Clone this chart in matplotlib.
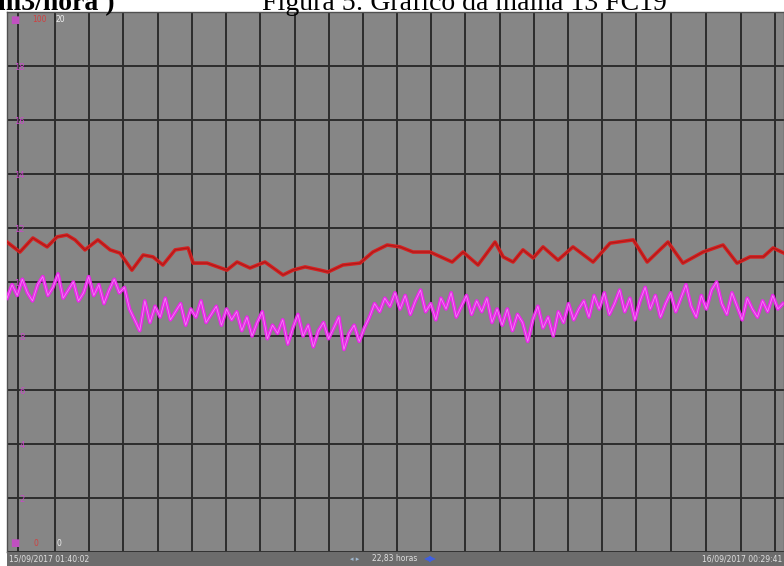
import numpy as np
import matplotlib
matplotlib.use("Agg")
import matplotlib.pyplot as plt
from matplotlib.patches import Rectangle

# ---------------- data ----------------
title_text = "Figura 5: Gráfico da malha 13 FC19"
unit_text = "m3/hora )"
start_label = "15/09/2017 01:40:02"
end_label = "16/09/2017 00:29:41"
span_label = "22,83 horas"

span_hours = 22.83
hour_grid = [0.32, 1.41, 2.41, 3.41, 4.44, 5.44, 6.43, 7.43, 8.46, 9.46, 10.46,
             11.46, 12.46, 13.46, 14.49, 15.49, 16.49, 17.48, 18.48, 19.51,
             20.54, 21.57, 22.57]
value_grid = [0, 2, 4, 6, 8, 10, 12, 14, 16, 18, 20]

red_time = [0.00, 0.38, 0.76, 1.18, 1.47, 1.76, 2.00, 2.29, 2.67, 3.03, 3.32,
            3.67, 4.00, 4.29, 4.58, 4.94, 5.32, 5.47, 5.88, 6.46, 6.76, 7.14,
            7.58, 8.11, 8.40, 8.76, 9.20, 9.43, 9.87, 10.37, 10.75, 11.17,
            11.55, 11.93, 12.43, 13.08, 13.40, 13.84, 14.34, 14.58, 14.87,
            15.16, 15.46, 15.75, 16.19, 16.63, 17.22, 17.72, 18.40, 18.81,
            19.42, 19.86, 20.45, 21.04, 21.45, 21.83, 22.22, 22.51, 22.83]
red_value = [11.48, 11.11, 11.63, 11.30, 11.67, 11.74, 11.56, 11.19, 11.56,
             11.19, 11.07, 10.44, 11.00, 10.93, 10.63, 11.19, 11.26, 10.70,
             10.70, 10.44, 10.74, 10.52, 10.74, 10.26, 10.44, 10.56, 10.44,
             10.37, 10.63, 10.70, 11.11, 11.37, 11.30, 11.11, 11.11, 10.74,
             11.11, 10.63, 11.48, 10.93, 10.74, 11.19, 10.89, 11.30, 10.81,
             11.30, 10.74, 11.44, 11.56, 10.74, 11.48, 10.70, 11.11, 11.37,
             10.70, 10.93, 10.93, 11.26, 11.07]

magenta_value = [
    9.4, 9.9, 9.5, 10.1, 9.6, 9.3, 9.9, 10.2, 9.5, 9.8, 10.3, 9.4, 9.7, 10.0,
    9.3, 9.6, 10.2, 9.5, 9.9, 9.2, 9.7, 10.1, 9.6, 9.8,
    9.0, 8.6, 8.2,
    9.3, 8.5, 9.1, 8.7, 9.4, 8.6, 8.9, 9.2, 8.4, 9.0, 8.7, 9.3, 8.5, 8.8,
    9.1, 8.4, 9.0, 8.6, 8.9,
    8.2, 8.7, 8.0, 8.5, 8.9, 7.9, 8.4, 8.1, 8.6, 7.7, 8.3, 8.8, 8.0, 8.4,
    7.6, 8.2, 8.5, 7.9, 8.3, 8.7, 7.5, 8.1, 8.4, 7.8, 8.3,
    8.7, 9.2, 8.9, 9.4, 9.1, 9.6,
    9.0, 9.5, 8.8, 9.3, 9.7, 8.9, 9.2, 8.6, 9.4, 9.0, 9.6, 8.7, 9.1, 9.5,
    8.8, 9.3, 8.9, 9.4, 8.5, 9.0,
    8.4, 9.0, 8.2, 8.8, 8.5, 7.8, 8.6, 9.1, 8.3, 8.7, 8.0, 8.9, 8.5, 9.2,
    8.6, 9.0,
    9.3, 8.7, 9.5, 9.0, 9.6, 8.8, 9.2, 9.7, 8.9, 9.4, 8.6, 9.3, 9.8, 9.0,
    9.5, 8.7, 9.2, 9.6, 8.9, 9.4, 9.9, 9.1, 8.7, 9.5, 9.0, 9.7, 10.0, 9.2,
    8.8, 9.6, 9.1, 8.6, 9.4, 9.0, 8.7, 9.3, 8.9, 9.5, 9.0, 9.2]
magenta_time = np.linspace(0.0, 22.8, len(magenta_value))

# ---------------- figure ----------------
W, H = 784, 566
fig = plt.figure(figsize=(W / 100, H / 100), dpi=100)
fig.patch.set_facecolor("white")

ax = fig.add_axes([7 / W, 14 / H, 777 / W, 540 / H])
ax.set_facecolor("#868686")
ax.set_xlim(0, span_hours)
ax.set_ylim(0, 20)

for v in value_grid:
    ax.axhline(v, color="#2c2c2c", lw=1.4, zorder=1)
for h in hour_grid:
    ax.axvline(h, color="#2c2c2c", lw=1.4, zorder=1)

ax.plot(magenta_time, magenta_value, color="#f020f0", lw=2.6, alpha=0.95, zorder=3)
ax.plot(magenta_time, magenta_value, color="#f6b0f6", lw=0.6, alpha=0.7, zorder=3)
ax.plot(red_time, red_value, color="#d42222", lw=2.6, zorder=4)
ax.plot(red_time, red_value, color="#b01818", lw=0.8, zorder=4)

ax.set_xticks([])
ax.set_yticks(value_grid[1:-1])
ax.set_yticklabels([str(v) for v in value_grid[1:-1]])
ax.tick_params(axis="y", length=0, pad=-13, labelsize=6, labelcolor="#c848c8")
for s in ax.spines.values():
    s.set_color("#505050")
    s.set_linewidth(1)

# corner scale labels
ax.text(0.004, 0.994, "■", transform=ax.transAxes, color="#c050c0",
        fontsize=7, va="top", ha="left")
ax.text(0.032, 0.994, "100", transform=ax.transAxes, color="#d04040",
        fontsize=5.5, va="top", ha="left")
ax.text(0.063, 0.994, "20", transform=ax.transAxes, color="#f0f0f0",
        fontsize=5.5, va="top", ha="left")
ax.text(0.004, 0.008, "■", transform=ax.transAxes, color="#c050c0",
        fontsize=7, va="bottom", ha="left")
ax.text(0.034, 0.008, "0", transform=ax.transAxes, color="#d04040",
        fontsize=5.5, va="bottom", ha="left")
ax.text(0.064, 0.008, "0", transform=ax.transAxes, color="#f0f0f0",
        fontsize=5.5, va="bottom", ha="left")

# bottom status bar
fig.patches.append(Rectangle((7 / W, 0), 777 / W, 14 / H, transform=fig.transFigure,
                             facecolor="#6c6c6c", edgecolor="none", zorder=0))
fig.text(9 / W, 7 / H, start_label, color="#e0e0e0", fontsize=5.5,
         va="center", ha="left")
fig.text(372 / W, 7 / H, span_label, color="#e0e0e0", fontsize=5.5,
         va="center", ha="left")
fig.text(350 / W, 7 / H, "◂ ▸", color="#a0b8d0", fontsize=5,
         va="center", ha="left")
fig.text(424 / W, 7 / H, "◀▶", color="#4060e0", fontsize=6,
         va="center", ha="left")
fig.text(702 / W, 7 / H, end_label, color="#e0e0e0", fontsize=5.5,
         va="center", ha="left")

# clipped title strip (cut at the top, as in the source image)
fig.text(262 / W, (H - 10) / H, title_text, family="Liberation Serif",
         fontsize=20, color="black", va="baseline", ha="left")
fig.text(-2 / W, (H - 10) / H, unit_text, family="Liberation Serif",
         fontweight="bold", fontsize=20, color="black", va="baseline", ha="left")

fig.savefig("out.png", dpi=100, facecolor="white")
